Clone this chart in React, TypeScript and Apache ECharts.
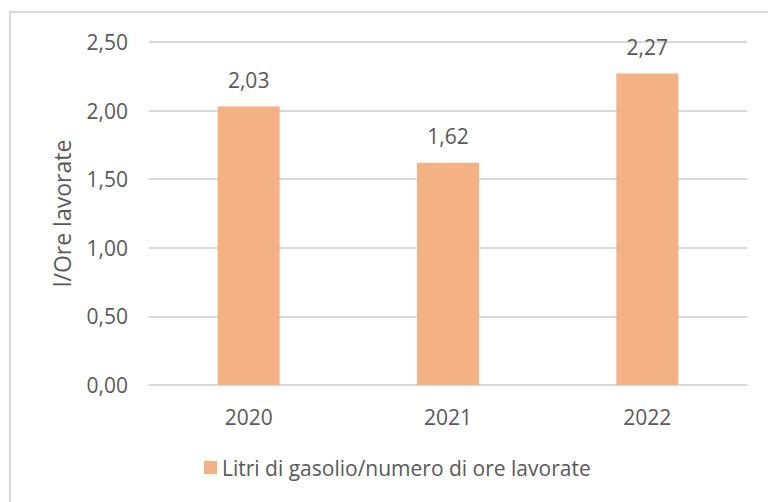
import React, { useEffect, useRef } from "react";
import * as echarts from "echarts";

const categories = ["2020", "2021", "2022"];
const values = [2.03, 1.62, 2.27];
const seriesName = "Litri di gasolio/numero di ore lavorate";
const yAxisName = "l/Ore lavorate";
const yMin = 0;
const yMax = 2.5;
const yInterval = 0.5;

const fmt = (v: number) => v.toFixed(2).replace(".", ",");

export default function App() {
  const ref = useRef<HTMLDivElement>(null);
  useEffect(() => {
    if (!ref.current) return;
    const chart = echarts.init(ref.current, undefined, { renderer: "svg" });
    const font = "'Open Sans', sans-serif";
    const textColor = "#595959";
    chart.setOption({
      animation: false,
      backgroundColor: "#ffffff",
      textStyle: { fontFamily: font },
      graphic: [
        {
          type: "rect",
          shape: { x: 10, y: 12, width: 800, height: 600 },
          style: { fill: "none", stroke: "#d9d9d9", lineWidth: 2 },
          silent: true,
        },
      ],
      grid: { left: 149, right: 21, top: 42, bottom: 117, containLabel: false },
      xAxis: {
        type: "category",
        data: categories,
        axisLine: { show: true, lineStyle: { color: "#d9d9d9", width: 2 } },
        axisTick: { show: false },
        axisLabel: { color: textColor, fontSize: 21, fontFamily: font, margin: 21 },
      },
      yAxis: {
        type: "value",
        min: yMin,
        max: yMax,
        interval: yInterval,
        name: yAxisName,
        nameLocation: "middle",
        nameGap: 76,
        nameTextStyle: { color: textColor, fontSize: 23, fontFamily: font },
        axisLine: { show: false },
        axisTick: { show: false },
        splitLine: { lineStyle: { color: "#d9d9d9", width: 2 } },
        axisLabel: {
          color: textColor,
          fontSize: 21,
          fontFamily: font,
          margin: 21,
          formatter: (v: number) => fmt(v),
        },
      },
      legend: {
        show: true,
        left: 204,
        top: 457,
        padding: 0,
        icon: "rect",
        itemWidth: 13,
        itemHeight: 13,
        itemGap: 10,
        textStyle: { color: textColor, fontSize: 21, fontFamily: font },
        data: [seriesName],
      },
      series: [
        {
          name: seriesName,
          type: "bar",
          data: values,
          barWidth: 62,
          itemStyle: { color: "#F4B183" },
          label: {
            show: true,
            position: "top",
            distance: 16,
            color: textColor,
            fontSize: 21,
            fontFamily: font,
            formatter: (p: any) => fmt(p.value),
          },
        },
      ],
    });
    return () => chart.dispose();
  }, []);
  return (
    <div
      ref={ref}
      style={{ position: "fixed", left: 0, top: 0, width: 768, height: 502 }}
    />
  );
}
